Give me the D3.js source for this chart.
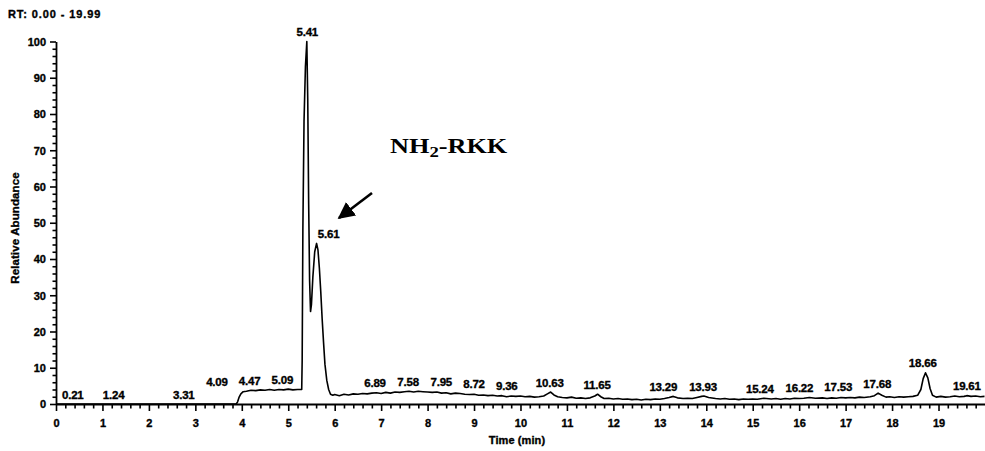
<!DOCTYPE html>
<html><head><meta charset="utf-8">
<script src="https://cdn.jsdelivr.net/npm/d3@7"></script>
<style>
body{margin:0;background:#fff}
text.s{font-family:"Liberation Sans",Arial,sans-serif;font-weight:bold;fill:#000;stroke:#000;stroke-width:0.35px}
</style>
</head><body>
<svg id="c" width="985" height="451"></svg>
<script>
// ---- data ----
const rtRange = [0.00, 19.99];
const yTicks = [0,10,20,30,40,50,60,70,80,90,100];
const xTicks = [0,1,2,3,4,5,6,7,8,9,10,11,12,13,14,15,16,17,18,19];
const traceTime = [
 0.00, 3.88, 3.91, 3.94, 3.98, 4.03, 4.10, 4.20, 4.30, 4.40, 4.50, 4.60, 4.70, 4.80, 4.90, 5.00, 5.10, 5.20, 5.29,
 5.30, 5.315, 5.34, 5.37, 5.40, 5.42, 5.44, 5.46, 5.48, 5.50, 5.53, 5.57, 5.61, 5.64, 5.67, 5.70, 5.73, 5.76, 5.79, 5.83, 5.87, 5.91, 5.96,
 6.00, 6.10, 6.20, 6.30, 6.40, 6.50, 6.60, 6.70, 6.80, 6.90, 7.00, 7.10, 7.20, 7.30, 7.40, 7.50, 7.60, 7.70, 7.80, 7.90,
 8.00, 8.10, 8.20, 8.30, 8.40, 8.50, 8.60, 8.70, 8.80, 8.90, 9.00, 9.10, 9.20, 9.30, 9.40, 9.50, 9.60, 9.70, 9.80, 9.90,
 10.00, 10.10, 10.20, 10.30, 10.40, 10.50, 10.58, 10.65, 10.72, 10.80, 10.90, 11.00, 11.10, 11.20, 11.30, 11.40, 11.50, 11.60, 11.66, 11.73, 11.80, 11.90,
 12.00, 12.10, 12.20, 12.30, 12.40, 12.50, 12.60, 12.70, 12.80, 12.90, 13.00, 13.10, 13.20, 13.29, 13.38, 13.50, 13.60, 13.70, 13.80, 13.90, 13.95, 14.05,
 14.20, 14.30, 14.40, 14.50, 14.60, 14.70, 14.80, 14.90, 15.00, 15.10, 15.24, 15.40, 15.50, 15.60, 15.70, 15.80, 15.90,
 16.00, 16.10, 16.22, 16.35, 16.50, 16.60, 16.70, 16.80, 16.90, 17.00, 17.10, 17.20, 17.30, 17.40, 17.53, 17.62, 17.70, 17.78, 17.87, 17.95,
 18.05, 18.15, 18.25, 18.35, 18.45, 18.55, 18.62, 18.67, 18.72, 18.77, 18.82, 18.87, 18.95, 19.05, 19.15, 19.25, 19.35, 19.45, 19.55, 19.61, 19.70, 19.80, 19.90, 19.99
];
const traceAbund = [
 0.0, 0.0, 0.6, 1.8, 2.8, 3.4, 3.5, 3.8, 3.7, 3.9, 3.8, 4.0, 3.8, 4.0, 3.9, 4.1, 3.9, 4.0, 4.0,
 12, 48, 78, 93, 100, 84, 55, 34, 25.5, 27.5, 35, 42, 44.3, 42.5, 37.5, 31, 23.5, 17, 11, 6.5, 4.0, 2.7, 2.4,
 2.6, 2.3, 2.7, 2.5, 2.8, 2.7, 2.9, 2.8, 3.0, 3.1, 2.9, 3.2, 3.0, 3.3, 3.2, 3.4, 3.5, 3.3, 3.5, 3.4,
 3.3, 3.2, 3.3, 3.0, 3.1, 2.8, 3.0, 2.9, 2.7, 2.6, 2.7, 2.4, 2.5, 2.3, 2.4, 2.2, 2.3, 2.0, 2.2, 2.1,
 2.2, 2.0, 2.1, 1.9, 2.0, 2.2, 2.8, 3.3, 2.5, 2.0, 1.8, 1.7, 1.9, 1.6, 1.7, 1.5, 1.7, 2.2, 2.7, 2.0, 1.5, 1.6,
 1.4, 1.5, 1.3, 1.4, 1.2, 1.3, 1.1, 1.3, 1.2, 1.4, 1.3, 1.5, 1.8, 2.1, 1.7, 1.5, 1.6, 1.5, 1.8, 2.1, 2.2, 1.8,
 1.5, 1.4, 1.5, 1.3, 1.4, 1.2, 1.4, 1.3, 1.4, 1.3, 1.6, 1.4, 1.5, 1.3, 1.5, 1.4, 1.6,
 1.5, 1.6, 1.8, 1.6, 1.7, 1.5, 1.7, 1.6, 1.8, 1.7, 1.8, 1.7, 1.9, 1.8, 2.0, 2.3, 3.0, 2.4, 1.9, 2.0,
 1.8, 2.0, 1.9, 2.0, 2.1, 2.4, 4.0, 7.0, 8.6, 7.2, 4.2, 2.4, 1.9, 2.1, 1.9, 2.0, 2.2, 2.0, 2.1, 2.3, 2.1, 2.2, 2.0, 2.1
];
const peakLabels = [0.21, 1.24, 3.31, 4.09, 4.47, 5.09, 5.41, 5.61, 6.89, 7.58, 7.95, 8.72, 9.36, 10.63, 11.65,
  13.29, 13.93, 15.24, 16.22, 17.53, 17.68, 18.66, 19.61];
const titleText = "RT: 0.00 - 19.99";
const yTitle = "Relative Abundance";
const xTitle = "Time (min)";
const compound = {main:"NH", sub:"2", rest:"-RKK"};

// ---- drawing ----
const svg = d3.select("#c");
const X0 = 56, X1 = 984.5, Y0 = 404, Y1 = 41.5;
const x = d3.scaleLinear().domain(rtRange).range([X0, X1]);
const y = d3.scaleLinear().domain([0, 100]).range([Y0, Y1]);

svg.append("rect").attr("width",985).attr("height",451).attr("fill","#fff");

// title
svg.append("text").attr("class","s").attr("x",8).attr("y",18).style("font-size","11px")
  .style("letter-spacing","0.9px").text(titleText);

// axes: major ticks
const yAx = svg.append("g").attr("transform",`translate(${X0},0)`)
  .call(d3.axisLeft(y).tickValues(yTicks).tickSize(6).tickSizeOuter(0).tickPadding(4).tickFormat(d3.format("d")));
const yMinor = d3.range(0, 101, 2).filter(v => v % 10 !== 0);
svg.append("g").attr("transform",`translate(${X0},0)`)
  .call(d3.axisLeft(y).tickValues(yMinor).tickSize(3.5).tickFormat(""))
  .call(g => g.select(".domain").remove());

const xAx = svg.append("g").attr("transform",`translate(0,${Y0})`)
  .call(d3.axisBottom(x).tickValues(xTicks).tickSize(7).tickSizeOuter(0).tickPadding(8).tickFormat(d3.format("d")));
const xMinor = d3.range(0, 100).map(i => i/5).filter(v => Math.abs(v - Math.round(v)) > 1e-6 && v <= rtRange[1]);
svg.append("g").attr("transform",`translate(0,${Y0})`)
  .call(d3.axisBottom(x).tickValues(xMinor).tickSize(4.5).tickFormat(""))
  .call(g => g.select(".domain").remove());

svg.selectAll(".domain").attr("stroke","#000").attr("stroke-width",1.8);
svg.selectAll(".tick line").attr("stroke","#000").attr("stroke-width",1.6);
svg.selectAll(".tick text").attr("class","s").style("font-size","11px");
yAx.selectAll(".tick text").attr("dy","0.36em");

// axis titles
svg.append("text").attr("class","s").attr("transform",`translate(19,228) rotate(-90)`).attr("text-anchor","middle")
  .style("font-size","11.5px").style("letter-spacing","0.1px").text(yTitle);
svg.append("text").attr("class","s").attr("x",517).attr("y",444).attr("text-anchor","middle")
  .style("font-size","11px").style("letter-spacing","0.1px").text(xTitle);

// trace
const pts = traceTime.map((t,i) => [t, traceAbund[i]]);
svg.append("path").attr("d", d3.line().x(d => x(d[0])).y(d => y(d[1]))(pts))
  .attr("fill","none").attr("stroke","#000").attr("stroke-width",1.6).attr("stroke-linejoin","round");

// peak labels: anchored at the trace, laid out to avoid overlap (highest first)
function valueAt(rt){
  let m = 0;
  pts.forEach(p => { if (Math.abs(p[0]-rt) <= 0.06) m = Math.max(m, p[1]); });
  for (let i=1;i<pts.length;i++){ if (pts[i][0] >= rt){ const a=pts[i-1], b=pts[i];
      const v = a[1] + (b[1]-a[1])*(rt-a[0])/((b[0]-a[0])||1); m = Math.max(m, v); break; } }
  return m;
}
function traceMinY(x0, x1){
  let m = Infinity;
  for (let i=0;i<pts.length;i++){
    const px = x(pts[i][0]);
    if (px >= x0 && px <= x1) m = Math.min(m, y(pts[i][1]));
  }
  [x0, x1].forEach(xx => {
    for (let i=1;i<pts.length;i++){ const a=x(pts[i-1][0]), b=x(pts[i][0]);
      if (xx>=a && xx<=b){ const ya=y(pts[i-1][1]), yb=y(pts[i][1]); m=Math.min(m, ya+(yb-ya)*(xx-a)/((b-a)||1)); break; } }
  });
  return m;
}
const labG = svg.append("g");
const labs = peakLabels.map(rt => {
  const t = labG.append("text").attr("class","s").style("font-size","11.5px").style("letter-spacing","-0.2px")
    .attr("text-anchor","middle").text(rt.toFixed(2));
  const w = t.node().getComputedTextLength();
  const v = valueAt(rt);
  return {rt, t, w, v, ax: x(rt), base: y(v) - 5.5};
});
const placed = [];
labs.slice().sort((a,b) => b.v - a.v).forEach(L => {
  const half = L.w/2 + 5.5;
  let best = null;
  for (let k=0; k<120 && best===null; k++){
    for (const s of (k===0?[0]:[-k,k])){
      const cx = L.ax + s;
      if (cx - half < X0) continue;
      const clash = placed.some(P => Math.abs(P.cx - cx) < half + P.half && Math.abs(P.base - L.base) < 22);
      if (clash) continue;
      if (traceMinY(cx - half - 2.5, cx + half + 2.5) < L.base + 1) continue;
      best = cx; break;
    }
  }
  if (best===null) best = L.ax;
  L.cx = best; L.half = half; placed.push(L);
  L.t.attr("x", best).attr("y", L.base);
});

// compound annotation (bold serif, horizontally widened like the scan) and arrow
const ann = svg.append("text").attr("transform","translate(390,153) scale(1.25,1)")
  .style("font-family","'Liberation Serif','Times New Roman',serif").style("font-weight","bold")
  .style("font-size","21px").style("fill","#000");
ann.append("tspan").text(compound.main);
ann.append("tspan").style("font-size","15px").attr("dy",4).text(compound.sub);
ann.append("tspan").attr("dy",-4).text(compound.rest);

svg.append("defs").append("marker").attr("id","ah").attr("viewBox","0 0 10 10").attr("refX",9).attr("refY",5)
  .attr("markerWidth",6.5).attr("markerHeight",6.5).attr("orient","auto").attr("markerUnits","strokeWidth")
  .append("path").attr("d","M0,0L10,5L0,10Z").attr("fill","#000");
svg.append("line").attr("x1",372).attr("y1",193).attr("x2",339).attr("y2",218)
  .attr("stroke","#000").attr("stroke-width",2.6).attr("marker-end","url(#ah)");
</script>
</body></html>
